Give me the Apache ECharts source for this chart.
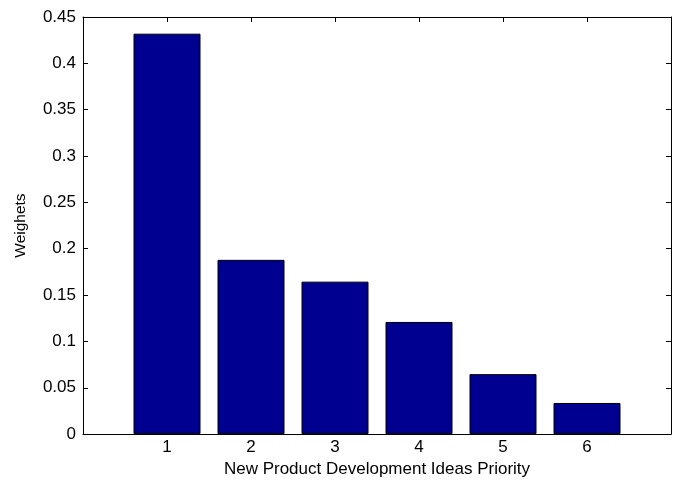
<!DOCTYPE html>
<html>
<head>
<meta charset="utf-8">
<script src="https://cdn.jsdelivr.net/npm/echarts@6/dist/echarts.min.js"></script>
<style>
html,body{margin:0;padding:0;background:#fff;}
#chart{width:678px;height:483px;}
</style>
</head>
<body>
<div id="chart"></div>
<script>
const categories = [1, 2, 3, 4, 5, 6];
const weights = [0.432, 0.188, 0.1645, 0.121, 0.0647, 0.0336];
const yTicks = ['0', '0.05', '0.1', '0.15', '0.2', '0.25', '0.3', '0.35', '0.4', '0.45'];
const xTitle = 'New Product Development Ideas Priority';
const yTitle = 'Weighets';

const FONT = '"Liberation Sans", Arial, sans-serif';
const chart = echarts.init(document.getElementById('chart'));
const lineStyle = { color: '#000', width: 1 };
const tickStyle = { show: true, inside: true, length: 5, lineStyle: lineStyle };

const option = {
  animation: false,
  backgroundColor: '#fff',
  grid: { left: 83, right: 7, top: 17, bottom: 43, containLabel: false },
  xAxis: [
    {
      type: 'value', min: 0, max: 7, interval: 1, position: 'bottom',
      name: xTitle, nameLocation: 'middle', nameGap: 24,
      nameTextStyle: { fontFamily: FONT, fontSize: 17, color: '#000' },
      axisLine: { show: true, onZero: false, lineStyle: lineStyle },
      axisTick: tickStyle,
      splitLine: { show: false },
      axisLabel: {
        fontFamily: FONT, fontSize: 17, color: '#000', margin: 5,
        formatter: v => (categories.indexOf(v) >= 0 ? String(v) : '')
      }
    },
    {
      type: 'value', min: 0, max: 7, interval: 1, position: 'top',
      axisLine: { show: true, onZero: false, lineStyle: lineStyle },
      axisTick: tickStyle,
      splitLine: { show: false },
      axisLabel: { show: false }
    }
  ],
  yAxis: [
    {
      type: 'value', min: 0, max: 0.45, interval: 0.05, position: 'left',
      name: yTitle, nameLocation: 'middle', nameGap: 54, nameRotate: 90,
      nameTextStyle: { fontFamily: FONT, fontSize: 15.5, color: '#000' },
      axisLine: { show: true, onZero: false, lineStyle: lineStyle },
      axisTick: tickStyle,
      splitLine: { show: false },
      axisLabel: {
        fontFamily: FONT, fontSize: 17, color: '#000', margin: 7,
        formatter: (v) => yTicks[Math.round(v / 0.05)]
      }
    },
    {
      type: 'value', min: 0, max: 0.45, interval: 0.05, position: 'right',
      axisLine: { show: true, onZero: false, lineStyle: lineStyle },
      axisTick: tickStyle,
      splitLine: { show: false },
      axisLabel: { show: false }
    }
  ],
  series: [
    {
      type: 'bar',
      xAxisIndex: 0, yAxisIndex: 0,
      barWidth: 67,
      data: categories.map((c, i) => [c, weights[i]]),
      itemStyle: { color: '#000090', borderColor: '#000', borderWidth: 1 }
    }
  ]
};
chart.setOption(option);
</script>
</body>
</html>
